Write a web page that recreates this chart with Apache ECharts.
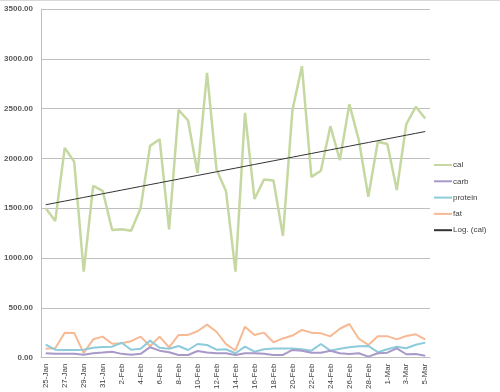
<!DOCTYPE html>
<html>
<head>
<meta charset="utf-8">
<script src="https://cdn.jsdelivr.net/npm/echarts@6/dist/echarts.min.js"></script>
<style>html,body{margin:0;padding:0;background:#fff;}#c{width:500px;height:392px;}</style>
</head>
<body>
<div id="c"></div>
<script>
// Dates: 25-Jan to 5-Mar (leap year, daily)
const startSerial = 42394; // Excel serial of 25-Jan-2016
const categories = [
 '25-Jan','26-Jan','27-Jan','28-Jan','29-Jan','30-Jan','31-Jan',
 '1-Feb','2-Feb','3-Feb','4-Feb','5-Feb','6-Feb','7-Feb','8-Feb','9-Feb','10-Feb','11-Feb','12-Feb','13-Feb','14-Feb',
 '15-Feb','16-Feb','17-Feb','18-Feb','19-Feb','20-Feb','21-Feb','22-Feb','23-Feb','24-Feb','25-Feb','26-Feb','27-Feb','28-Feb','29-Feb',
 '1-Mar','2-Mar','3-Mar','4-Mar','5-Mar'
];
const cal = [1499,1371,2106,1966,863,1725,1675,1281,1288,1274,1499,2126,2193,1288,2488,2381,1854,2860,1888,1670,863,
 2458,1592,1789,1779,1221,2484,2926,1815,1876,2324,1983,2545,2184,1615,2167,2144,1682,2344,2518,2401];
const carb = [45,38,40,38,30,45,52,60,38,28,38,105,70,55,27,27,67,52,44,44,27,
 44,44,40,27,27,77,70,50,50,70,44,37,44,10,44,50,94,34,37,20];
const protein = [130,80,77,77,80,100,107,110,150,80,90,171,100,90,117,77,137,127,80,84,44,
 110,60,84,92,92,92,84,70,137,70,90,105,115,118,55,84,110,94,130,151];
const fat = [90,95,251,248,45,184,211,140,144,165,211,115,211,104,228,228,265,332,260,135,72,
 311,228,251,154,193,222,278,251,244,214,290,338,190,128,215,216,184,218,234,184];
const yTicks = [0,500,1000,1500,2000,2500,3000,3500];

// Logarithmic trendline of cal against date serial: y = a*ln(x) + b
function logTrend(vals){
  const xs = vals.map((v,i)=>Math.log(startSerial+i));
  const n = vals.length;
  const mx = xs.reduce((s,v)=>s+v,0)/n, my = vals.reduce((s,v)=>s+v,0)/n;
  let sxy=0,sxx=0;
  for(let i=0;i<n;i++){sxy+=(xs[i]-mx)*(vals[i]-my);sxx+=(xs[i]-mx)*(xs[i]-mx);}
  const a=sxy/sxx,b=my-a*mx;
  return xs.map(x=>+(a*x+b).toFixed(2));
}
const trend = logTrend(cal);

const chart = echarts.init(document.getElementById('c'));
const FONT = '"Liberation Sans", Arial, sans-serif';
chart.setOption({
  animation:false,
  backgroundColor:'#fff',
  grid:{left:41,right:70,top:9,bottom:34},
  legend:{
    orient:'vertical', left:429, top:156,
    itemWidth:18, itemHeight:2, itemGap:8.3,
    textStyle:{fontFamily:FONT,fontSize:8,color:'#404040',padding:[0,0,0,-4]},
    data:[
      {name:'cal',icon:'rect'},{name:'carb',icon:'rect'},{name:'protein',icon:'rect'},
      {name:'fat',icon:'rect'},{name:'Log. (cal)',icon:'rect'}
    ]
  },
  xAxis:{
    type:'category', data:categories, boundaryGap:true,
    axisLine:{lineStyle:{color:'#bfbfbf',width:1}},
    axisTick:{interval:1,length:5,lineStyle:{color:'#bfbfbf'}},
    axisLabel:{interval:1,rotate:90,fontFamily:FONT,fontSize:8,color:'#404040',margin:6}
  },
  yAxis:{
    type:'value', min:yTicks[0], max:yTicks[yTicks.length-1], interval:500,
    axisLine:{show:true,lineStyle:{color:'#bfbfbf'}},
    axisTick:{show:false},
    splitLine:{lineStyle:{color:'#bfbfbf',width:1}},
    axisLabel:{formatter:v=>v.toFixed(2),fontFamily:FONT,fontSize:8,fontWeight:'bold',color:'#595959',margin:8}
  },
  series:[
    {name:'cal',type:'line',data:cal,symbol:'none',lineStyle:{color:'#c6d8a1',width:2.5},itemStyle:{color:'#c6d8a1'},z:3},
    {name:'carb',type:'line',data:carb,symbol:'none',lineStyle:{color:'#a899c9',width:2},itemStyle:{color:'#a899c9'},z:4},
    {name:'protein',type:'line',data:protein,symbol:'none',lineStyle:{color:'#8dcbdb',width:2},itemStyle:{color:'#8dcbdb'},z:3},
    {name:'fat',type:'line',data:fat,symbol:'none',lineStyle:{color:'#f7b993',width:2},itemStyle:{color:'#f7b993'},z:2},
    {name:'Log. (cal)',type:'line',data:trend,symbol:'none',lineStyle:{color:'#333333',width:1},itemStyle:{color:'#333333'},z:5}
  ],
  graphic:[{type:'line',shape:{x1:0,y1:0.5,x2:500,y2:0.5},style:{stroke:'#d9d9d9',lineWidth:1},silent:true}]
});
</script>
</body>
</html>
